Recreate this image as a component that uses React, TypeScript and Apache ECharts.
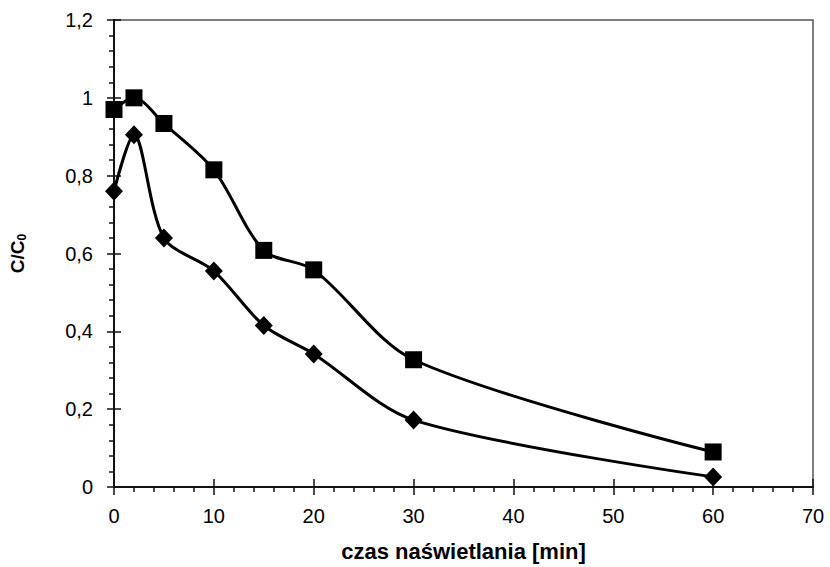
import React, { useEffect, useRef } from "react";
import * as echarts from "echarts";

const xValues = [0, 2, 5, 10, 15, 20, 30, 60];
const squareSeries = [0.97, 1.0, 0.934, 0.815, 0.608, 0.558, 0.327, 0.09];
const diamondSeries = [0.76, 0.905, 0.64, 0.555, 0.415, 0.342, 0.172, 0.026];
const xTitle = "czas naświetlania [min]";

const fmt = (v: number) => String(Math.round(v * 10) / 10).replace(".", ",");

export default function App() {
  const ref = useRef<HTMLDivElement>(null);
  useEffect(() => {
    if (!ref.current) return;
    const chart = echarts.init(ref.current, null, { renderer: "svg" });
    const font = "Liberation Sans, Arial, sans-serif";
    const label = { color: "#000", fontSize: 20, fontFamily: font };
    chart.setOption({
      animation: false,
      backgroundColor: "#fff",
      grid: {
        left: 114,
        right: 17,
        top: 20,
        bottom: 78,
        show: true,
        borderColor: "#555",
        borderWidth: 1.5,
      },
      xAxis: [
        {
          type: "value",
          min: 0,
          max: 70,
          interval: 10,
          name: xTitle,
          nameLocation: "middle",
          nameGap: 53,
          nameTextStyle: { color: "#000", fontSize: 22, fontWeight: "bold", fontFamily: font },
          axisLine: { show: true, lineStyle: { color: "#111", width: 2 } },
          axisTick: { show: true, length: 8, lineStyle: { color: "#111", width: 1.5 } },
          minorTick: { show: true, splitNumber: 5, length: 5, lineStyle: { color: "#111", width: 1.5 } },
          splitLine: { show: false },
          axisLabel: { ...label, margin: 19, formatter: (v: number) => String(v) },
        },
        {
          type: "value",
          min: 0,
          max: 70,
          interval: 10,
          position: "bottom",
          axisLine: { show: false },
          axisTick: { show: true, inside: true, length: 8, lineStyle: { color: "#111", width: 1.5 } },
          splitLine: { show: false },
          axisLabel: { show: false },
        },
      ],
      yAxis: [
        {
          type: "value",
          min: 0,
          max: 1.2,
          interval: 0.2,
          name: "{a|C/C}{b|0}",
          nameLocation: "middle",
          nameGap: 86,
          nameRotate: 90,
          nameTextStyle: {
            color: "#000",
            fontFamily: font,
            rich: {
              a: { fontSize: 19, fontWeight: "bold", fontFamily: font, color: "#000" },
              b: { fontSize: 12, fontWeight: "bold", fontFamily: font, color: "#000", verticalAlign: "bottom", padding: [9, 0, 0, 0] },
            },
          },
          axisLine: { show: true, lineStyle: { color: "#111", width: 2 } },
          axisTick: { show: true, length: 7, lineStyle: { color: "#111", width: 1.5 } },
          minorTick: { show: true, splitNumber: 5, length: 5, lineStyle: { color: "#111", width: 1.5 } },
          splitLine: { show: false },
          axisLabel: { ...label, margin: 21, formatter: fmt },
        },
        {
          type: "value",
          min: 0,
          max: 1.2,
          interval: 0.2,
          position: "left",
          axisLine: { show: false },
          axisTick: { show: true, inside: true, length: 7, lineStyle: { color: "#111", width: 1.5 } },
          splitLine: { show: false },
          axisLabel: { show: false },
        },
      ],
      series: [
        {
          type: "line",
          data: xValues.map((x, i) => [x, squareSeries[i]]),
          smooth: 0.3,
          symbol: "rect",
          symbolSize: 17,
          lineStyle: { color: "#000", width: 3 },
          itemStyle: { color: "#000" },
        },
        {
          type: "line",
          data: xValues.map((x, i) => [x, diamondSeries[i]]),
          smooth: 0.3,
          symbol: "diamond",
          symbolSize: [18, 19],
          lineStyle: { color: "#000", width: 3 },
          itemStyle: { color: "#000" },
        },
      ],
    });
    return () => chart.dispose();
  }, []);
  return (
    <div
      ref={ref}
      style={{ position: "absolute", left: 0, top: 0, width: 830, height: 567 }}
    />
  );
}
